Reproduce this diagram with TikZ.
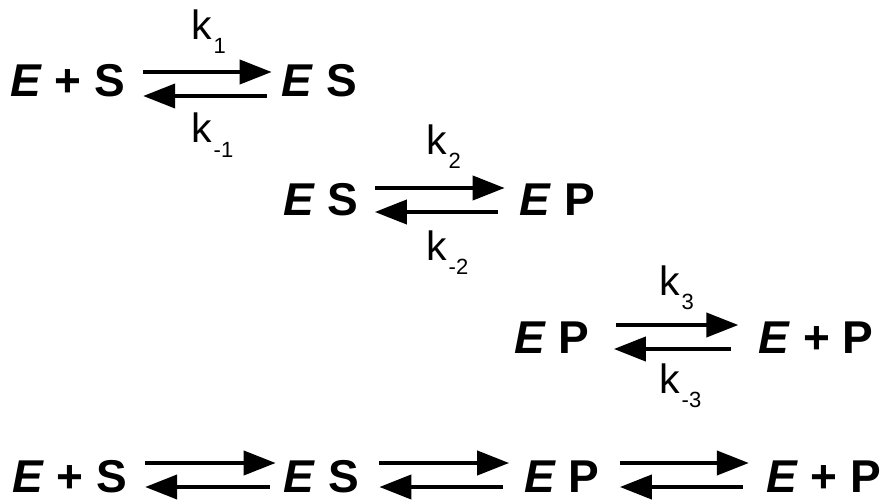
\documentclass[tikz,border=0pt]{standalone}
\usepackage{fontspec}
\setmainfont{Liberation Sans}
\usetikzlibrary{arrows.meta}
\newcommand\enz{\textit{E}}
\newcommand\ksub[1]{\kern2pt\raisebox{-14pt}{\fontsize{22}{22}\selectfont #1}}
\begin{document}
\begin{tikzpicture}[x=1pt,y=-1pt,
  species/.style={inner sep=0pt, anchor=base, font=\fontsize{46}{46}\selectfont\bfseries},
  rate/.style={inner sep=0pt, anchor=base west, font=\fontsize{41}{41}\selectfont},
  fwd/.style={line width=4pt, -{Triangle[length=32pt,width=24pt]}},
]
\useasboundingbox (0,0) rectangle (884,500);
% row 1
\node[species] (r1a) at (67.5,97) {\enz{} + S};
\node[species] (r1b) at (319.5,97) {\enz{} S};
\draw[fwd, shorten <=18pt, shorten >=10pt] ([yshift=25pt]r1a.base east) -- ([yshift=25pt]r1b.base west);
\draw[fwd, shorten <=15pt, shorten >=18pt] ([yshift=1pt]r1b.base west) -- ([yshift=1pt]r1a.base east);
\node[rate] (k1) at (191,40) {k\ksub{1}};
\node[rate] (km1) at (191,143) {k\ksub{-1}};
% row 2
\node[species] (r2a) at (321,215) {\enz{} S};
\node[species] (r2b) at (557.5,215) {\enz{} P};
\draw[fwd, shorten <=16pt, shorten >=15pt] ([yshift=27pt]r2a.base east) -- ([yshift=27pt]r2b.base west);
\draw[fwd, shorten <=22pt, shorten >=16pt] ([yshift=3pt]r2b.base west) -- ([yshift=3pt]r2a.base east);
\node[rate] (k2) at (426,155) {k\ksub{2}};
\node[rate] (km2) at (426,260) {k\ksub{-2}};
% row 3
\node[species] (r3a) at (552,353) {\enz{} P};
\node[species] (r3b) at (816,353) {\enz{} + P};
\draw[fwd, shorten <=26pt, shorten >=20pt] ([yshift=28pt]r3a.base east) -- ([yshift=28pt]r3b.base west);
\draw[fwd, shorten <=27pt, shorten >=24pt] ([yshift=4pt]r3b.base west) -- ([yshift=4pt]r3a.base east);
\node[rate] (k3) at (659,295) {k\ksub{3}};
\node[rate] (km3) at (659,393) {k\ksub{-3}};
% row 4
\node[species] (r4a) at (69.5,492) {\enz{} + S};
\node[species] (r4b) at (321.5,492) {\enz{} S};
\node[species] (r4c) at (562,492) {\enz{} P};
\node[species] (r4d) at (823.5,492) {\enz{} + P};
\draw[fwd, shorten <=18pt, shorten >=8pt] ([yshift=29pt]r4a.base east) -- ([yshift=29pt]r4b.base west);
\draw[fwd, shorten <=14pt, shorten >=18pt] ([yshift=5pt]r4b.base west) -- ([yshift=5pt]r4a.base east);
\draw[fwd, shorten <=20pt, shorten >=15pt] ([yshift=29pt]r4b.base east) -- ([yshift=29pt]r4c.base west);
\draw[fwd, shorten <=21pt, shorten >=20pt] ([yshift=5pt]r4c.base west) -- ([yshift=5pt]r4b.base east);
\draw[fwd, shorten <=20pt, shorten >=17pt] ([yshift=29pt]r4c.base east) -- ([yshift=29pt]r4d.base west);
\draw[fwd, shorten <=23pt, shorten >=20pt] ([yshift=5pt]r4d.base west) -- ([yshift=5pt]r4c.base east);
\end{tikzpicture}
\end{document}
